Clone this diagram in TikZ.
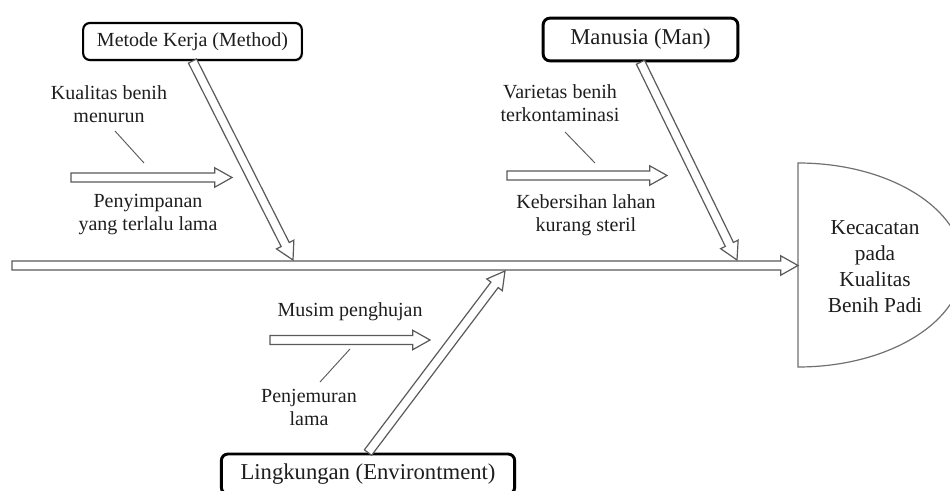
\documentclass[tikz,border=0pt]{standalone}
\usepackage{fontspec}
\setmainfont{Liberation Serif}
\usetikzlibrary{calc,shadows}
\definecolor{linegray}{HTML}{5A5A5A}
\definecolor{headgray}{HTML}{707070}
\definecolor{txtgray}{HTML}{1E1E1E}
\newcommand{\shaftw}{3.4pt}
\newcommand{\headw}{7.3pt}
\newcommand{\headl}{13pt}
\newcommand{\hollowarrow}[3][]{%
\draw[hollow,#1] let \p1=($(#3)-(#2)$), \n1={atan2(\y1,\x1)}, \n2={veclen(\x1,\y1)} in
 [shift={(#2)},rotate=\n1]
 (0,-\shaftw) -- ({\n2*1pt-\headl},-\shaftw) -- ({\n2*1pt-\headl},-\headw) -- ({\n2*1pt},0)
 -- ({\n2*1pt-\headl},\headw) -- ({\n2*1pt-\headl},\shaftw) -- (0,\shaftw) -- cycle;}
\begin{document}
\begin{tikzpicture}[x=0.75pt,y=-0.75pt,
 hollow/.style={draw=linegray,fill=white,line width=0.9pt,line join=miter},
 causebox/.style={draw=black,fill=white,rounded corners=5pt,line width=1.6pt,text=txtgray,
  font=\fontsize{15}{18}\selectfont,inner sep=0pt,
  drop shadow={opacity=0.2,shadow xshift=1.2pt,shadow yshift=-1.2pt}},
 lbl/.style={text=txtgray,align=center,font=\fontsize{15}{17.25}\selectfont,inner sep=0pt},
 tick/.style={draw=linegray,line width=0.7pt}]
\useasboundingbox (0,0) rectangle (950,491);
\clip (0,0) rectangle (950,491);
\node[causebox,minimum width=164pt,minimum height=27.75pt] (method) at (192.5,41.5) {Metode Kerja (Method)};
\node[causebox,line width=2.2pt,minimum width=146pt,minimum height=32pt,font=\fontsize{17}{20}\selectfont] (man) at (640.5,39.5) {Manusia (Man)};
\node[causebox,line width=2.2pt,minimum width=220pt,minimum height=30pt,font=\fontsize{17}{20}\selectfont] (env) at (368,474) {Lingkungan (Environtment)};
\draw[draw=headgray,line width=0.9pt,fill=white] (798,367) -- (798,163)
 arc[start angle=90,end angle=-90,x radius=123.75pt,y radius=76.5pt] -- cycle;
\node[lbl,font=\fontsize{16}{19.5}\selectfont] (effect) at (875,267) {Kecacatan\\pada\\Kualitas\\Benih Padi};
\coordinate (tail) at (12,265.5);
\coordinate (spine) at (798,265.5);
\coordinate (tipM) at (293,260);
\coordinate (tipH) at (737,260);
\coordinate (tipE) at (505,271);
\coordinate (m1) at (71,177.5);
\coordinate (m2) at (232,177.5);
\coordinate (h1) at (507,175.5);
\coordinate (h2) at (667,175.5);
\coordinate (e1) at (270,340);
\coordinate (e2) at (430,340);
\coordinate (mt1) at (115,131);
\coordinate (mt2) at (144,163);
\coordinate (ht1) at (565,132);
\coordinate (ht2) at (595,163);
\coordinate (et1) at (350,349);
\coordinate (et2) at (320,382);
\hollowarrow{tail}{spine}
\hollowarrow{method.south}{tipM}
\hollowarrow{man.south}{tipH}
\hollowarrow{env.north}{tipE}
\hollowarrow{m1}{m2}
\hollowarrow{h1}{h2}
\hollowarrow{e1}{e2}
\draw[tick] (mt1) -- (mt2);
\draw[tick] (ht1) -- (ht2);
\draw[tick] (et1) -- (et2);
\node[lbl] (kb) at (109,104.5) {Kualitas benih\\menurun};
\node[lbl] (ps) at (148,214.5) {Penyimpanan\\yang terlalu lama};
\node[lbl] (vb) at (560,103.5) {Varietas benih\\terkontaminasi};
\node[lbl] (ks) at (586,215) {Kebersihan lahan\\kurang steril};
\node[lbl] (mp) at (350,312) {Musim penghujan};
\node[lbl] (pl) at (309,407.5) {Penjemuran\\lama};
\end{tikzpicture}
\end{document}
